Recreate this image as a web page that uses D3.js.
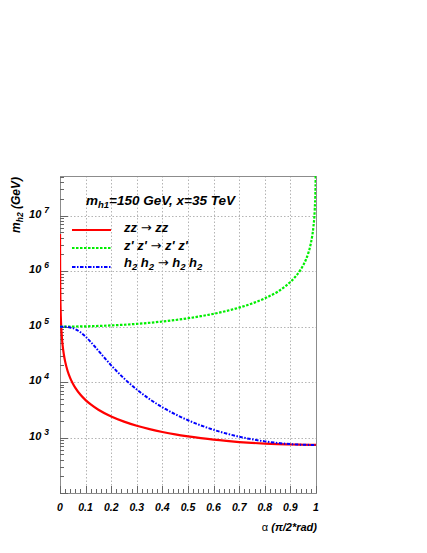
<!DOCTYPE html>
<html>
<head>
<meta charset="utf-8">
<script src="https://cdn.jsdelivr.net/npm/d3@7"></script>
<style>
  body { margin: 0; background: white; }
  text { font-family: "Liberation Sans", Arial, sans-serif; font-weight: bold; font-style: italic; }
  .arrow { font-family: "DejaVu Sans", sans-serif; font-weight: normal; font-style: normal; }
</style>
</head>
<body>
<script>
// alpha in units of pi/2, m_h2 in GeV
const zzAlpha = [0.0001, 0.0002, 0.0005, 0.001, 0.002, 0.003, 0.005, 0.0075, 0.01, 0.015, 0.02, 0.03, 0.04, 0.05, 0.06, 0.08, 0.1, 0.12, 0.15, 0.2, 0.25, 0.3, 0.35, 0.4, 0.45, 0.5, 0.55, 0.6, 0.65, 0.7, 0.75, 0.8, 0.85, 0.9, 0.95, 1.0];
const zzMass  = [4.7e6, 2.36e6, 9.4e5, 4.7e5, 2.36e5, 1.57e5, 9.4e4, 6.3e4, 4.7e4, 3.14e4, 2.36e4, 1.57e4, 1.18e4, 9430, 7860, 5900, 4730, 3950, 3170, 2395, 1935, 1630, 1418, 1258, 1137, 1047, 975, 915, 868, 830, 801, 778, 760, 749, 742, 740];

const zpAlpha = [0, 0.1, 0.2, 0.3, 0.4, 0.5, 0.55, 0.6, 0.65, 0.7, 0.75, 0.8, 0.85, 0.88, 0.9, 0.92, 0.94, 0.95, 0.96, 0.97, 0.98, 0.985, 0.99, 0.995, 0.998, 0.999];
const zpMass  = [1e5, 1.012e5, 1.051e5, 1.122e5, 1.236e5, 1.414e5, 1.543e5, 1.701e5, 1.914e5, 2.203e5, 2.613e5, 3.236e5, 4.26e5, 5.33e5, 6.39e5, 8.0e5, 1.063e6, 1.275e6, 1.592e6, 2.122e6, 3.18e6, 4.24e6, 6.37e6, 1.27e7, 3.18e7, 6.4e7];

const hhAlpha = [0, 0.02, 0.04, 0.06, 0.08, 0.1, 0.12, 0.14, 0.16, 0.18, 0.2, 0.25, 0.3, 0.35, 0.4, 0.45, 0.5, 0.55, 0.6, 0.65, 0.7, 0.75, 0.8, 0.85, 0.9, 0.95, 1.0];
const hhMass  = [1e5, 99600, 96800, 89900, 79000, 65900, 52900, 41600, 32500, 25400, 20050, 11660, 7330, 4930, 3515, 2630, 2050, 1655, 1378, 1180, 1035, 929, 853, 799, 762, 741, 735];

const xTicks = [0, 0.1, 0.2, 0.3, 0.4, 0.5, 0.6, 0.7, 0.8, 0.9, 1];
const xTickLabels = ["0", "0.1", "0.2", "0.3", "0.4", "0.5", "0.6", "0.7", "0.8", "0.9", "1"];
const yDecades = [3, 4, 5, 6, 7];

const svg = d3.select("body").append("svg")
    .attr("width", 427)
    .attr("height", 553)

const pLeft = 60, pRight = 316, pTop = 176, pBottom = 493;

const x = d3.scaleLinear().domain([0, 1]).range([pLeft, pRight]);
const y = d3.scaleLog().domain([100, 5.2e7]).range([pBottom, pTop]);

svg.append("clipPath").attr("id", "clip")
    .append("rect")
    .attr("x", pLeft).attr("y", pTop)
    .attr("width", pRight - pLeft).attr("height", pBottom - pTop)

// grid
const grid = svg.append("g")
    .style("stroke", "#b4b4b4")
    .style("stroke-width", 1)
    .style("stroke-dasharray", "1.5,2")

grid.selectAll(".gx")
    .data(xTicks.slice(1, -1))
    .join("line")
    .attr("class", "gx")
    .attr("x1", d => Math.round(x(d)) + 0.5)
    .attr("x2", d => Math.round(x(d)) + 0.5)
    .attr("y1", pTop)
    .attr("y2", pBottom)

grid.selectAll(".gy")
    .data(yDecades)
    .join("line")
    .attr("class", "gy")
    .attr("x1", pLeft)
    .attr("x2", pRight)
    .attr("y1", d => Math.round(y(Math.pow(10, d))) + 0.5)
    .attr("y2", d => Math.round(y(Math.pow(10, d))) + 0.5)

// frame
svg.append("rect")
    .attr("x", pLeft + 0.5).attr("y", pTop + 0.5)
    .attr("width", pRight - pLeft).attr("height", pBottom - pTop)
    .style("fill", "none")
    .style("stroke", "#8c8c8c")
    .style("stroke-width", 1)

// x ticks
const xMinor = d3.range(0, 51).map(i => i / 50);
svg.append("g").selectAll("line")
    .data(xMinor)
    .join("line")
    .attr("x1", d => Math.round(x(d)) + 0.5)
    .attr("x2", d => Math.round(x(d)) + 0.5)
    .attr("y1", pBottom)
    .attr("y2", (d, i) => i % 5 == 0 ? pBottom - 7 : pBottom - 4)
    .style("stroke", "#666")
    .style("stroke-width", 1)

svg.append("g").selectAll("text")
    .data(xTicks)
    .join("text")
    .attr("x", d => x(d))
    .attr("y", 511)
    .attr("text-anchor", "middle")
    .style("font-size", "10.5px")
    .text((d, i) => xTickLabels[i])

// y ticks
const yMinor = [];
for (let e = 2; e <= 7; e++) for (let k = 1; k <= 9; k++) {
    const v = k * Math.pow(10, e);
    if (v <= 5.2e7) yMinor.push({ v: v, major: k == 1 });
}
svg.append("g").selectAll("line")
    .data(yMinor)
    .join("line")
    .attr("x1", pLeft)
    .attr("x2", d => d.major ? pLeft + 8 : pLeft + 4)
    .attr("y1", d => Math.round(y(d.v)) + 0.5)
    .attr("y2", d => Math.round(y(d.v)) + 0.5)
    .style("stroke", "#666")
    .style("stroke-width", 1)

const yLab = svg.append("g").selectAll("text")
    .data(yDecades)
    .join("text")
    .attr("x", 49)
    .attr("y", d => y(Math.pow(10, d)) + 2)
    .attr("text-anchor", "end")
    .style("font-size", "11px")
yLab.append("tspan").text("10")
yLab.append("tspan")
    .attr("dx", 3)
    .attr("dy", -5)
    .style("font-size", "8.5px")
    .text(d => d)

// curves
const line = d3.line()
    .x(d => x(d[0]))
    .y(d => y(d[1]))
    .curve(d3.curveMonotoneX)

const plot = svg.append("g").attr("clip-path", "url(#clip)")

const series = [
    { name: "zz", a: zzAlpha, m: zzMass, color: "#ff0000", dash: null, w: 2.2 },
    { name: "zp", a: zpAlpha, m: zpMass, color: "#00ee00", dash: "2.5,1.5", w: 2.2 },
    { name: "hh", a: hhAlpha, m: hhMass, color: "#0000ff", dash: "3.5,1.5,1.5,1.5", w: 2 }
];

plot.selectAll(".curve")
    .data(series)
    .join("path")
    .attr("class", "curve")
    .attr("d", s => line(s.a.map((a, i) => [a, s.m[i]])))
    .style("fill", "none")
    .style("stroke", s => s.color)
    .style("stroke-width", s => s.w)
    .style("stroke-dasharray", s => s.dash)

// title inside frame
const title = svg.append("text")
    .attr("x", 86)
    .attr("y", 205)
    .style("font-size", "13.5px")
title.append("tspan").text("m")
title.append("tspan").attr("dy", 3).style("font-size", "9.5px").text("h1")
title.append("tspan").attr("dy", -3).text("=150 GeV, x=35 TeV")

// legend
const legY = [230, 248, 267];
svg.append("g").selectAll("line")
    .data(series)
    .join("line")
    .attr("x1", 72)
    .attr("x2", 111)
    .attr("y1", (d, i) => legY[i])
    .attr("y2", (d, i) => legY[i])
    .style("stroke", s => s.color)
    .style("stroke-width", s => s.w)
    .style("stroke-dasharray", s => s.dash)

const lt1 = svg.append("text").attr("x", 124).attr("y", 232).style("font-size", "13px")
lt1.append("tspan").text("zz ")
lt1.append("tspan").attr("class", "arrow").text("\u2192")
lt1.append("tspan").text(" zz")

const lt2 = svg.append("text").attr("x", 124).attr("y", 250).style("font-size", "13px")
lt2.append("tspan").text("z' z' ")
lt2.append("tspan").attr("class", "arrow").text("\u2192")
lt2.append("tspan").text(" z' z'")

const lt3 = svg.append("text").attr("x", 124).attr("y", 267).style("font-size", "13px")
lt3.append("tspan").text("h")
lt3.append("tspan").attr("dy", 3).style("font-size", "9.5px").text("2")
lt3.append("tspan").attr("dy", -3).text(" h")
lt3.append("tspan").attr("dy", 3).style("font-size", "9.5px").text("2")
lt3.append("tspan").attr("dy", -3).text(" ")
lt3.append("tspan").attr("class", "arrow").text("\u2192")
lt3.append("tspan").text(" h")
lt3.append("tspan").attr("dy", 3).style("font-size", "9.5px").text("2")
lt3.append("tspan").attr("dy", -3).text(" h")
lt3.append("tspan").attr("dy", 3).style("font-size", "9.5px").text("2")

// axis titles
const xt = svg.append("text")
    .attr("x", 317)
    .attr("y", 531)
    .attr("text-anchor", "end")
    .style("font-size", "11px")
xt.append("tspan").style("font-weight", "normal").style("font-style", "normal").text("\u03b1 ")
xt.append("tspan").text("(\u03c0/2*rad)")

const yt = svg.append("text")
    .attr("transform", "translate(20,177) rotate(-90)")
    .attr("text-anchor", "end")
    .style("font-size", "12px")
yt.append("tspan").text("m")
yt.append("tspan").attr("dy", 3).style("font-size", "8.5px").text("h2")
yt.append("tspan").attr("dy", -3).text(" (GeV)")
</script>
</body>
</html>
